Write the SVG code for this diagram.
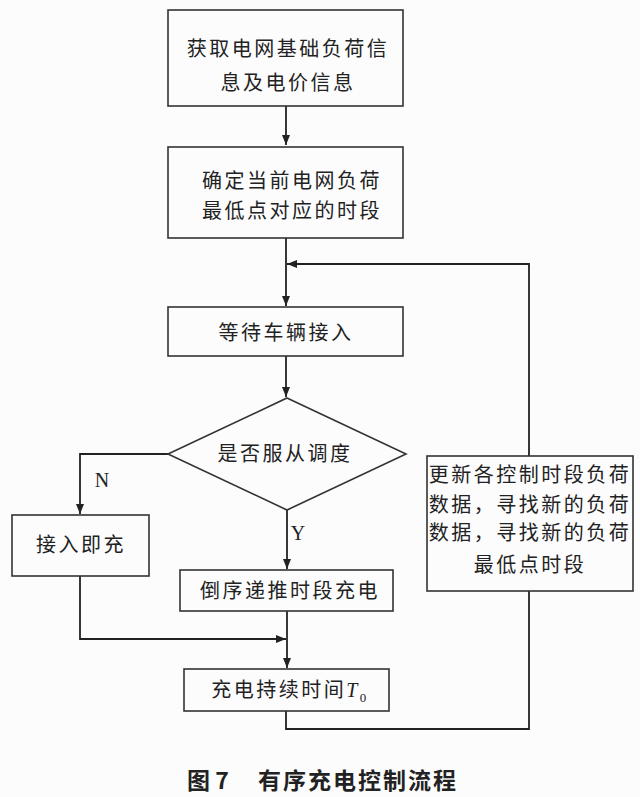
<svg xmlns="http://www.w3.org/2000/svg" width="640" height="797" viewBox="0 0 640 797">
<style>
.box{fill:none;stroke:#333;stroke-width:1.6}
.t{font-family:"Liberation Serif","Noto Sans CJK SC",serif;font-size:20px;fill:#222;text-anchor:middle;letter-spacing:2.5px}
.lbl{font-family:"Liberation Serif","Noto Sans CJK SC",serif;font-size:20px;fill:#222;text-anchor:middle}
.c{fill:none;stroke:#222;stroke-width:1.8}
.cap{font-family:"Noto Sans CJK SC",sans-serif;font-size:23px;font-weight:bold;fill:#222}
</style>
<defs>
<marker id="ah" viewBox="0 0 10 8" refX="10" refY="4" markerWidth="10" markerHeight="8" markerUnits="userSpaceOnUse" orient="auto">
<path d="M0,0 L10,4 L0,8 Z" fill="#222"/>
</marker>
</defs>
<rect width="640" height="797" fill="#fcfcfd"/>
<g id="connectors">
<path class="c" d="M286,106 V145" marker-end="url(#ah)"/>
<path class="c" d="M286,238 V306" marker-end="url(#ah)"/>
<path class="c" d="M529,456 V264 H287" marker-end="url(#ah)"/>
<path class="c" d="M286,356 V397" marker-end="url(#ah)"/>
<path class="c" d="M168,454 H80 V514" marker-end="url(#ah)"/>
<path class="c" d="M287,510 V569" marker-end="url(#ah)"/>
<path class="c" d="M287,611 V668" marker-end="url(#ah)"/>
<path class="c" d="M80,576 V639 H286" marker-end="url(#ah)"/>
<path class="c" d="M286,711 V729 H529 V591"/>
</g>
<g id="n1">
<rect class="box" x="168" y="10" width="235" height="96"/>
<text class="t" x="288" y="56">获取电网基础负荷信</text>
<text class="t" x="288" y="90">息及电价信息</text>
</g>
<g id="n2">
<rect class="box" x="168" y="147" width="235" height="91"/>
<text class="t" x="292" y="188">确定当前电网负荷</text>
<text class="t" x="292" y="218">最低点对应的时段</text>
</g>
<g id="n3">
<rect class="box" x="168" y="307" width="235" height="49"/>
<text class="t" x="286" y="340">等待车辆接入</text>
</g>
<g id="n4">
<polygon class="box" points="287,398 406,454 287,510 168,454"/>
<text class="t" x="285" y="461">是否服从调度</text>
</g>
<text class="lbl" x="102" y="487">N</text>
<text class="lbl" x="298" y="540">Y</text>
<g id="n5">
<rect class="box" x="12" y="515" width="137" height="61"/>
<text class="t" x="81" y="552">接入即充</text>
</g>
<g id="n6">
<rect class="box" x="180" y="570" width="213" height="41"/>
<text class="t" x="290" y="598">倒序递推时段充电</text>
</g>
<g id="n7">
<rect class="box" x="184" y="669" width="205" height="42"/>
<text class="t" x="290" y="697">充电持续时间<tspan font-style="italic" font-family="Liberation Serif">T</tspan><tspan font-size="13" dy="5" font-family="Liberation Serif">0</tspan></text>
</g>
<g id="n8">
<rect class="box" x="427" y="456" width="206" height="135"/>
<text class="t" x="530" y="482">更新各控制时段负荷</text>
<text class="t" x="530" y="512">数据，寻找新的负荷</text>
<text class="t" x="530" y="540">数据，寻找新的负荷</text>
<text class="t" x="530" y="572">最低点时段</text>
</g>
<g id="caption">
<text class="cap" x="187" y="789">图 7</text>
<text class="cap" x="258" y="789" letter-spacing="2">有序充电控制流程</text>
</g>
</svg>
